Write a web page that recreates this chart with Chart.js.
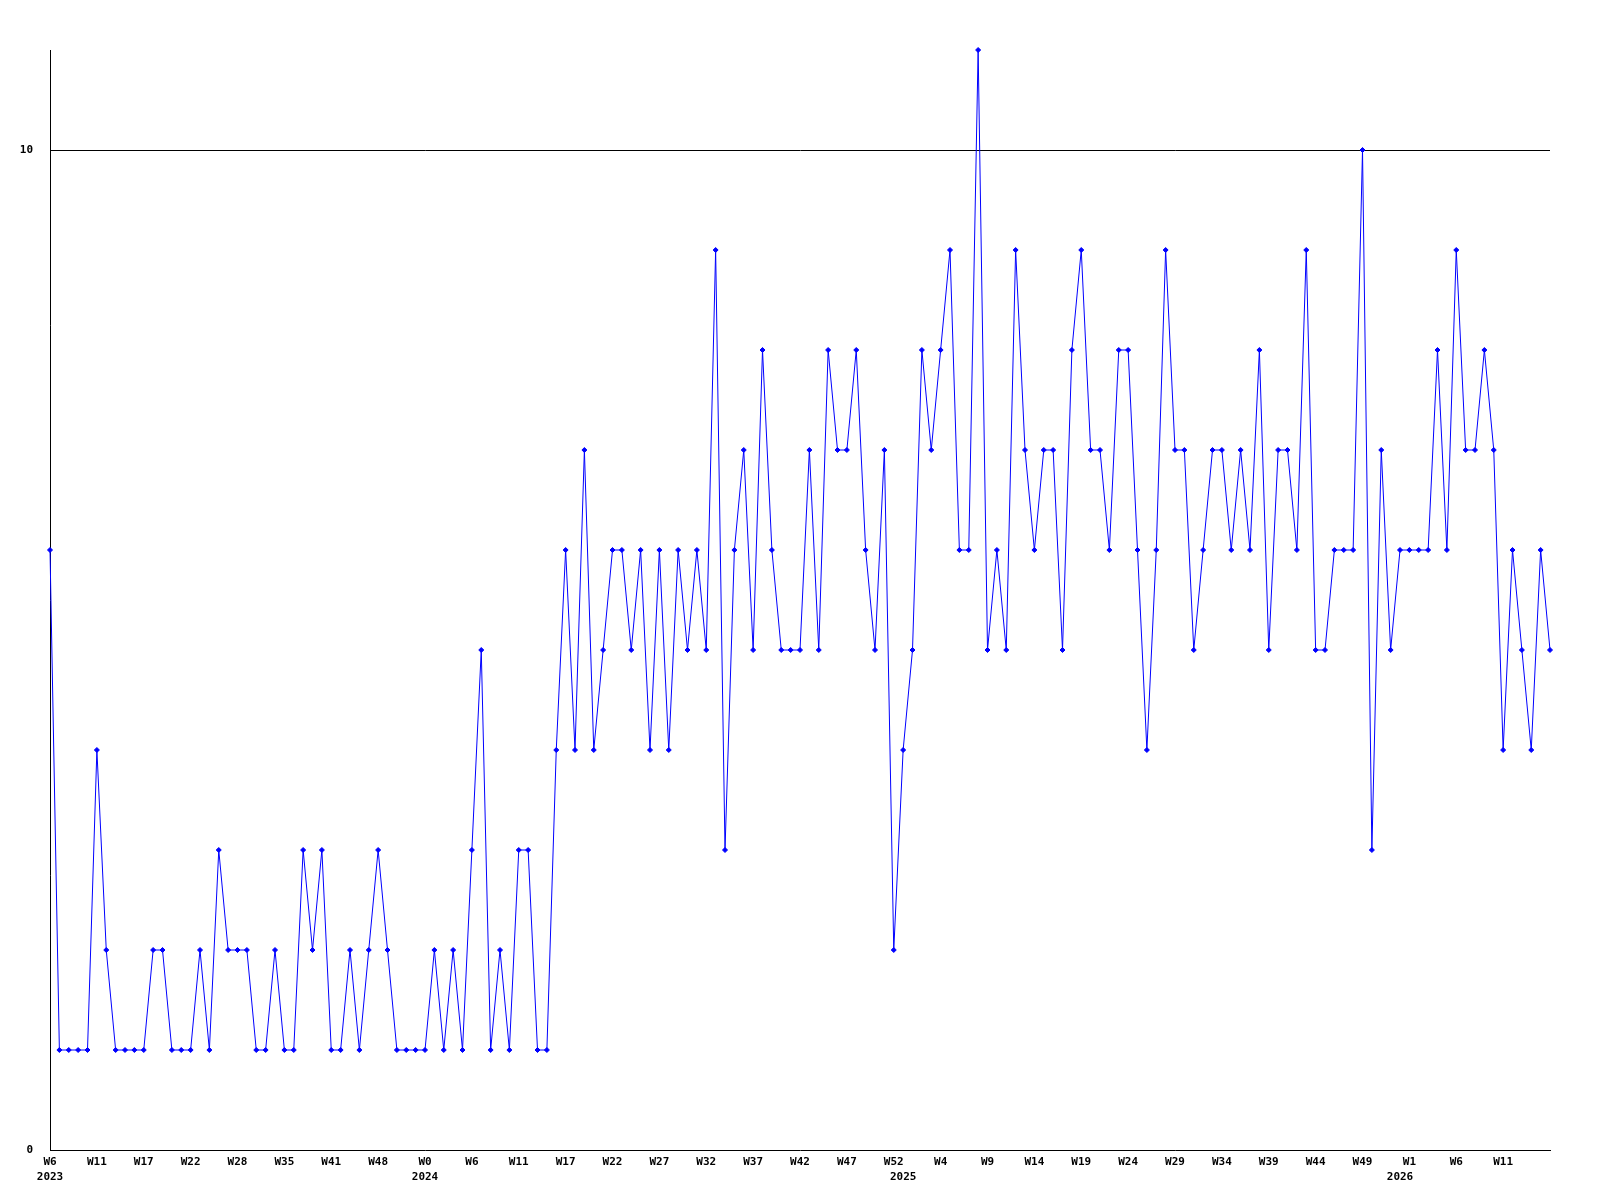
<!DOCTYPE html>
<html>
<head>
<meta charset="utf-8">
<title>Weekly count</title>
<script src="https://cdn.jsdelivr.net/npm/chart.js@4/dist/chart.umd.min.js"></script>
<style>
  html, body { margin: 0; padding: 0; background: #fff; }
  #chart { display: block; }
</style>
</head>
<body>
<canvas id="chart" width="1600" height="1200"></canvas>
<script>
// Week numbers per year (some weeks in 2023 and early 2024 have no sample)
const weeks2023 = [6, 7, 8, 9, 10, 11, 12, 13, 14, 15, 17, 18, 19, 20, 21, 22, 23, 24, 25, 26,
  28, 29, 30, 31, 33, 35, 36, 37, 38, 39, 41, 42, 43, 45, 46, 48, 49, 50, 51, 52];
const weeks2024 = [0, 1, 2, 3, 4, 6, 7, 8, 9, 10, 11, 12, 13, 14, 15, 17, 18, 19, 20, 21,
  22, 23, 24, 25, 26, 27, 28, 29, 30, 31, 32, 33, 34, 35, 36, 37, 38, 39, 40, 41,
  42, 43, 44, 45, 46, 47, 48, 49, 50, 51, 52];
const weeks2025 = [0, 1, 2, 3, 4, 5, 6, 7, 8, 9, 10, 11, 12, 13, 14, 15, 16, 17, 18, 19,
  20, 21, 22, 23, 24, 25, 26, 27, 28, 29, 30, 31, 32, 33, 34, 35, 36, 37, 38, 39,
  40, 41, 42, 43, 44, 45, 46, 47, 48, 49, 50, 51, 52];
const weeks2026 = [0, 1, 2, 3, 4, 5, 6, 7, 8, 9, 10, 11, 12, 13, 14, 15, 16];

// One value per week, in the same order
const counts = [
  6, 1, 1, 1, 1, 4, 2, 1, 1, 1,
  1, 2, 2, 1, 1, 1, 2, 1, 3, 2,
  2, 2, 1, 1, 2, 1, 1, 3, 2, 3,
  1, 1, 2, 1, 2, 3, 2, 1, 1, 1,
  1, 2, 1, 2, 1, 3, 5, 1, 2, 1,
  3, 3, 1, 1, 4, 6, 4, 7, 4, 5,
  6, 6, 5, 6, 4, 6, 4, 6, 5, 6,
  5, 9, 3, 6, 7, 5, 8, 6, 5, 5,
  5, 7, 5, 8, 7, 7, 8, 6, 5, 7,
  2, 4, 5, 8, 7, 8, 9, 6, 6, 11,
  5, 6, 5, 9, 7, 6, 7, 7, 5, 8,
  9, 7, 7, 6, 8, 8, 6, 4, 6, 9,
  7, 7, 5, 6, 7, 7, 6, 7, 6, 8,
  5, 7, 7, 6, 9, 5, 5, 6, 6, 6,
  10, 3, 7, 5, 6, 6, 6, 6, 8, 6,
  9, 7, 7, 8, 7, 4, 6, 5, 4, 6, 5
];

const yTicks = [0, 10];
const labelEvery = 5;

// Flatten to one label per point
const pointYear = [];
const pointWeek = [];
[[2023, weeks2023], [2024, weeks2024], [2025, weeks2025], [2026, weeks2026]].forEach(([year, list]) => {
  list.forEach(w => {
    pointYear.push(year);
    pointWeek.push(w);
  });
});
const labels = pointWeek.map((w, i) => pointYear[i] + ' W' + w);
const lastIndex = labels.length - 1;

const tickFont = { family: '"DejaVu Sans Mono", monospace', size: 11, weight: 'bold', lineHeight: 1.36 };

const ctx = document.getElementById('chart').getContext('2d');
new Chart(ctx, {
  type: 'line',
  data: {
    labels: labels,
    datasets: [{
      data: counts,
      borderColor: '#0000ff',
      backgroundColor: '#0000ff',
      borderWidth: 1,
      tension: 0,
      fill: false,
      pointStyle: 'rectRot',
      pointRadius: 2.5,
      pointBorderWidth: 1,
      pointBorderColor: '#0000ff',
      pointBackgroundColor: '#0000ff',
      clip: false
    }]
  },
  options: {
    responsive: false,
    animation: false,
    devicePixelRatio: 1,
    layout: { padding: { top: 50, right: 50, left: 0, bottom: 0 } },
    plugins: {
      legend: { display: false },
      tooltip: { enabled: false }
    },
    scales: {
      x: {
        type: 'category',
        offset: false,
        grid: { display: false, drawTicks: false },
        border: { display: true, color: '#000', width: 1 },
        afterFit: scale => { scale.height = 50; },
        ticks: {
          autoSkip: false,
          maxRotation: 0,
          minRotation: 0,
          padding: 5,
          color: '#000',
          font: tickFont,
          callback: function(value, index) {
            const lines = [];
            // the last point gets no week label (it would run off the edge)
            const showWeek = index % labelEvery === 0 && index !== lastIndex;
            lines.push(showWeek ? 'W' + pointWeek[index] : '');
            if (index === 0 || pointYear[index] !== pointYear[index - 1]) {
              lines.push(String(pointYear[index]));
            }
            if (lines.length === 1 && lines[0] === '') return '';
            return lines;
          }
        }
      },
      y: {
        min: 0,
        max: 11,
        afterBuildTicks: scale => { scale.ticks = yTicks.map(v => ({ value: v })); },
        afterFit: scale => { scale.width = 50; },
        grid: {
          drawTicks: false,
          color: c => (c.tick && c.tick.value === 10 ? '#000' : 'rgba(0,0,0,0)'),
          lineWidth: 1
        },
        border: { display: true, color: '#000', width: 1 },
        ticks: {
          padding: 17,
          color: '#000',
          font: { family: '"DejaVu Sans Mono", monospace', size: 11, weight: 'bold' },
          callback: v => String(v)
        }
      }
    }
  }
});
</script>
</body>
</html>
